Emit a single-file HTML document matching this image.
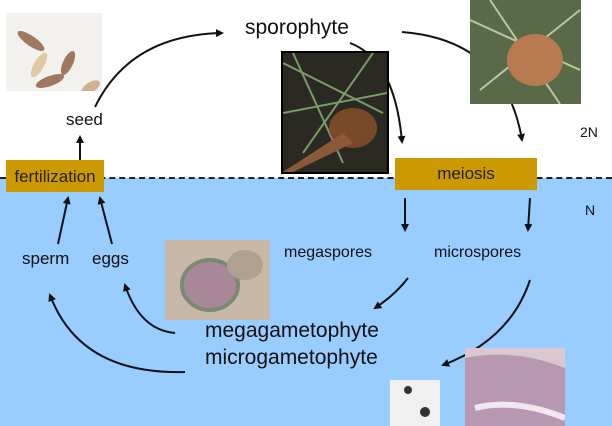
<!DOCTYPE html>
<html><head><style>
body{margin:0;width:612px;height:426px;overflow:hidden;position:relative;font-family:"Liberation Sans",sans-serif;background:#fff}
.t{position:absolute;white-space:nowrap;color:#111}
.box{position:absolute;background:#cc9900;color:#222;font-size:17px;text-align:center}
.img{position:absolute}
</style></head><body>
<div style="position:absolute;left:0;top:178px;width:612px;height:248px;background:#99ccff"></div>
<div style="position:absolute;left:0;top:177px;width:612px;border-top:2px dashed #222"></div>
<div class="img" style="left:6px;top:13px;width:96px;height:78px;background:#f3f1ee"></div>
<svg class="img" style="left:6px;top:13px" width="96" height="78"><g fill="#a07860"><ellipse cx="25" cy="28" rx="16" ry="5" transform="rotate(35 25 28)"/><ellipse cx="33" cy="52" rx="14" ry="5" transform="rotate(-60 33 52)" fill="#e0c8a0"/><ellipse cx="44" cy="68" rx="15" ry="5" transform="rotate(-20 44 68)"/><ellipse cx="62" cy="50" rx="13" ry="5" transform="rotate(-65 62 50)"/><ellipse cx="85" cy="74" rx="10" ry="5" transform="rotate(-30 85 74)" fill="#d0b090"/></g></svg>
<svg style="position:absolute;left:0;top:0" width="612" height="426">
<defs><marker id="a" markerWidth="8" markerHeight="8" refX="6" refY="4" orient="auto" markerUnits="userSpaceOnUse"><path d="M0 0 L8 4 L0 8Z" fill="#111"/></marker></defs>
<g stroke="#111" stroke-width="2" fill="none" marker-end="url(#a)">
<path d="M95 107 Q130 35 222 33"/>
<path d="M80 160 L80 137"/>
<path d="M350 43 Q395 60 402 142"/>
<path d="M402 32 Q505 40 522 140"/>
<path d="M405 198 L405 230"/>
<path d="M530 198 L528 230"/>
<path d="M408 278 Q395 295 375 308"/>
<path d="M530 280 Q510 340 443 365"/>
<path d="M58 244 L68 198"/>
<path d="M112 244 L100 198"/>
<path d="M185 372 Q80 375 50 295"/>
<path d="M175 333 Q140 330 125 285"/>
</g></svg>
<div class="img" style="left:281px;top:51px;width:104px;height:119px;background:#2a2a22;border:2px solid #000"></div>
<svg class="img" style="left:283px;top:53px" width="104" height="119"><g stroke="#7a9a6a" stroke-width="2"><line x1="0" y1="10" x2="100" y2="60"/><line x1="10" y1="0" x2="60" y2="110"/><line x1="90" y1="0" x2="20" y2="100"/><line x1="0" y1="60" x2="104" y2="40"/></g><ellipse cx="70" cy="75" rx="24" ry="20" fill="#7a4a28"/><path d="M0 119 L60 80 L70 90 L10 119Z" fill="#8a5a38"/></svg>
<div class="img" style="left:470px;top:0;width:111px;height:104px;background:#5a6a48"></div>
<svg class="img" style="left:470px;top:0" width="111" height="104"><g stroke="#b8c8a0" stroke-width="2"><line x1="0" y1="20" x2="110" y2="70"/><line x1="20" y1="0" x2="90" y2="104"/><line x1="110" y1="10" x2="10" y2="90"/></g><ellipse cx="65" cy="60" rx="28" ry="26" fill="#b87a50"/></svg>
<div class="img" style="left:165px;top:240px;width:105px;height:80px;background:#c8b8a8"></div>
<svg class="img" style="left:165px;top:240px" width="105" height="80"><ellipse cx="45" cy="45" rx="28" ry="25" fill="#a88898" stroke="#7a8a70" stroke-width="4"/><ellipse cx="80" cy="25" rx="18" ry="15" fill="#b0a090"/></svg>
<div class="img" style="left:465px;top:348px;width:100px;height:78px;background:#d8c8d0"></div>
<svg class="img" style="left:465px;top:348px" width="100" height="78"><path d="M0 10 Q50 0 100 20 L100 78 L0 78Z" fill="#b898b0"/><path d="M10 60 Q50 50 100 70" stroke="#f0e8f0" stroke-width="6" fill="none"/></svg>
<div class="img" style="left:390px;top:380px;width:50px;height:46px;background:#f0f0f0"></div>
<svg class="img" style="left:390px;top:380px" width="50" height="46"><circle cx="18" cy="10" r="4" fill="#333"/><circle cx="35" cy="32" r="5" fill="#333"/></svg>
<div class="t" style="left:245px;top:16px;font-size:21px">sporophyte</div>
<div class="t" style="left:66px;top:110px;font-size:17px">seed</div>
<div class="t" style="left:580px;top:124px;font-size:14px">2N</div>
<div class="t" style="left:585px;top:202px;font-size:14px">N</div>
<div class="box" style="left:6px;top:160px;width:98px;height:32px;line-height:34px">fertilization</div>
<div class="box" style="left:395px;top:158px;width:142px;height:32px;line-height:32px">meiosis</div>
<div class="t" style="left:22px;top:249px;font-size:17px">sperm</div>
<div class="t" style="left:92px;top:249px;font-size:17px">eggs</div>
<div class="t" style="left:284px;top:244px;font-size:16px">megaspores</div>
<div class="t" style="left:434px;top:244px;font-size:16px">microspores</div>
<div class="t" style="left:205px;top:319px;font-size:21px">megagametophyte</div>
<div class="t" style="left:205px;top:346px;font-size:21px">microgametophyte</div>
</body></html>
